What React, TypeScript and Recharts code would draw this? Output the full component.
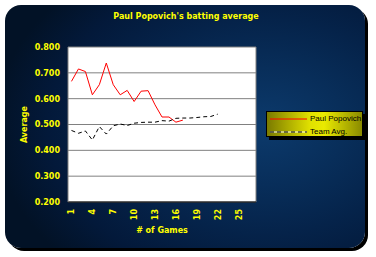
import React from 'react';
import { LineChart, Line, XAxis, YAxis, CartesianGrid, ReferenceLine } from 'recharts';

const games = [1, 2, 3, 4, 5, 6, 7, 8, 9, 10, 11, 12, 13, 14, 15, 16, 17, 18, 19, 20, 21, 22];
const paulAvg = [0.667, 0.715, 0.705, 0.615, 0.654, 0.738, 0.654, 0.615, 0.632, 0.589, 0.629, 0.631, 0.576, 0.529, 0.529, 0.509, 0.517];
const teamAvg = [0.477, 0.466, 0.475, 0.440, 0.492, 0.463, 0.495, 0.502, 0.496, 0.505, 0.508, 0.509, 0.509, 0.515, 0.513, 0.524, 0.525, 0.525, 0.527, 0.530, 0.531, 0.540];
const seriesNames = ['Paul Popovich', 'Team Avg.'];
const xTickLabels = [1, 4, 7, 10, 13, 16, 19, 22, 25];
const categoryCount = 27;
const yTicks = [0.2, 0.3, 0.4, 0.5, 0.6, 0.7, 0.8];

const data = games.map((g, i) => ({ game: g, paul: paulAvg[i], team: teamAvg[i] }));

const boundaryTicks: number[] = [];
for (let k = 0; k <= categoryCount; k++) boundaryTicks.push(k + 0.5);

const YELLOW = '#ffff00';
const FONT = '"DejaVu Sans", sans-serif';

const LegendBox = () => {
  return (
    <div
      style={{
        position: 'absolute',
        left: 266,
        top: 111,
        width: 97,
        height: 26,
        boxSizing: 'border-box',
        border: '1px solid #000',
        background: 'linear-gradient(to right, #7a7a00 0%, #e0e000 45%, #eaea00 60%, #8a8a00 100%)',
        boxShadow: '3px 3px 0 #000',
      }}
    >
      {seriesNames.map((name, i) => (
        <div key={i} style={{ position: 'absolute', left: 3, top: 1 + i * 13, height: 11, display: 'flex', alignItems: 'center' }}>
          <svg width={37} height={11} style={{ display: 'block' }}>
            {i === 1 ? (
              <>
                <line x1={0} y1={6} x2={37} y2={6} stroke="#fff" strokeWidth={1} />
                <line x1={0} y1={6} x2={37} y2={6} stroke="#000" strokeWidth={1} strokeDasharray="4 3" />
              </>
            ) : (
              <line x1={0} y1={6} x2={37} y2={6} stroke="#ff0000" strokeWidth={1} />
            )}
          </svg>
          <span style={{ marginLeft: 3, fontFamily: '"Liberation Sans", Arial, sans-serif', fontSize: 8, color: '#000', lineHeight: '11px', whiteSpace: 'nowrap' }}>
            {name}
          </span>
        </div>
      ))}
    </div>
  );
};

const makeTickLabel = (v: number) => (p: any) => {
  const vb = p.viewBox;
  const px = vb.x + 3;
  const py = vb.y + vb.height + 7;
  return (
    <text
      x={px}
      y={py}
      transform={`rotate(-90, ${px}, ${py})`}
      textAnchor="end"
      fill={YELLOW}
      fontFamily={FONT}
      fontWeight="bold"
      fontSize={8}
    >
      {v}
    </text>
  );
};

export default function App() {
  return (
    <div style={{ position: 'absolute', left: 0, top: 0, width: 376, height: 257, background: '#fff', overflow: 'hidden' }}>
      <div
        style={{
          position: 'absolute',
          left: 5,
          top: 5,
          width: 360,
          height: 243,
          borderRadius: 16,
          background:
            'radial-gradient(ellipse 75% 80% at 72% 50%, #0c3a6c 0%, #082e5a 30%, #05234a 55%, #03193a 80%, #021226 100%)',
          boxShadow: '3px 3px 0 #000',
        }}
      />
      <div
        style={{
          position: 'absolute',
          left: 5,
          top: 11,
          width: 362,
          textAlign: 'center',
          fontFamily: FONT,
          fontWeight: 'bold',
          fontSize: 8,
          color: YELLOW,
          lineHeight: '12px',
        }}
      >
        Paul Popovich's batting average
      </div>
      <div style={{ position: 'absolute', left: 0, top: 0 }}>
        <LineChart width={376} height={257} data={data} margin={{ top: 47, right: 120, bottom: 0, left: 0 }}>
          <CartesianGrid vertical={false} fill="#ffffff" stroke="#808080" strokeWidth={1} />
          <XAxis
            dataKey="game"
            type="number"
            domain={[0.5, categoryCount + 0.5]}
            ticks={boundaryTicks}
            interval={0}
            height={55}
            tickSize={3}
            tickLine={{ stroke: '#000' }}
            tick={false}
            axisLine={{ stroke: '#000' }}
            label={{
              content: (p: any) => {
                const vb = p.viewBox;
                return (
                  <text x={vb.x + vb.width / 2} y={vb.y + 31} textAnchor="middle" fill={YELLOW} fontFamily={FONT} fontWeight="bold" fontSize={8}>
                    # of Games
                  </text>
                );
              },
            }}
          />
          <YAxis
            type="number"
            domain={[0.2, 0.8]}
            ticks={yTicks}
            width={68}
            tickSize={0}
            tickMargin={8}
            tickLine={false}
            axisLine={{ stroke: '#808080' }}
            tickFormatter={(v: number) => v.toFixed(3)}
            tick={{ fill: YELLOW, fontFamily: FONT, fontWeight: 'bold', fontSize: 8 }}
            label={{
              content: (p: any) => {
                const vb = p.viewBox;
                const cx = vb.x + 27;
                const cy = vb.y + vb.height / 2;
                return (
                  <text x={cx} y={cy} transform={`rotate(-90, ${cx}, ${cy})`} textAnchor="middle" fill={YELLOW} fontFamily={FONT} fontWeight="bold" fontSize={8}>
                    Average
                  </text>
                );
              },
            }}
          />
          <ReferenceLine x={categoryCount + 0.5} stroke="#808080" />
          {xTickLabels.map((v) => (
            <ReferenceLine key={v} x={v} stroke="none" strokeOpacity={0} label={{ content: makeTickLabel(v) }} />
          ))}
          <Line type="linear" dataKey="paul" name={seriesNames[0]} stroke="#ff0000" strokeWidth={1} dot={false} isAnimationActive={false} />
          <Line type="linear" dataKey="team" name={seriesNames[1]} stroke="#000000" strokeWidth={1} strokeDasharray="4 3" dot={false} isAnimationActive={false} />
        </LineChart>
      </div>
      <LegendBox />
    </div>
  );
}
